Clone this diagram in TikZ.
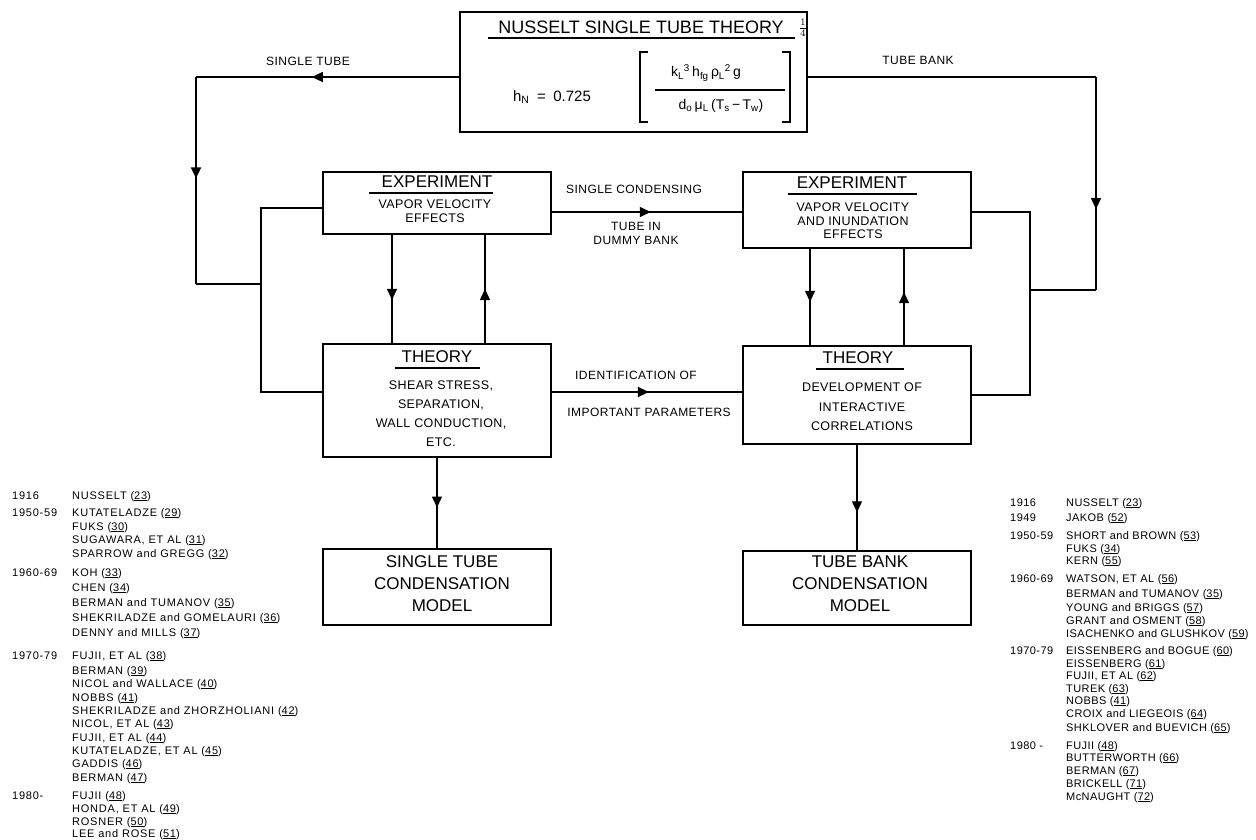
\documentclass[tikz,border=0pt]{standalone}
\usepackage{fontspec}
\setmainfont{Liberation Sans}
\usetikzlibrary{arrows.meta,decorations.markings,calc}
\newcommand\rn[1]{\underline{#1}}
\tikzset{
  box/.style={draw, line width=1.6pt, inner sep=0pt, minimum width=228pt},
  conn/.style={line width=1.4pt},
  uline/.style={line width=1.4pt},
  am/.style={postaction={decorate}, decoration={markings, mark=at position #1 with {\arrow{Triangle[length=11pt,width=10pt]}}}},
  ttl/.style={font=\fontsize{17}{20}\selectfont, inner sep=1pt},
  body/.style={font=\fontsize{12.5}{14}\selectfont\addfontfeature{LetterSpace=3}, align=center, inner sep=0pt},
  lab/.style={font=\fontsize{12}{14}\selectfont\addfontfeature{LetterSpace=4}, align=center, inner sep=0pt},
  model/.style={font=\fontsize{17}{22}\selectfont, align=center, inner sep=0pt},
  ref/.style={font=\fontsize{11}{12}\selectfont\addfontfeature{LetterSpace=7}, anchor=base west, inner sep=0pt},
  refr/.style={font=\fontsize{11}{12}\selectfont\addfontfeature{LetterSpace=4}, anchor=base west, inner sep=0pt},
  frm/.style={font=\fontsize{14}{16}\selectfont, inner sep=1pt},
}
\begin{document}
\begin{tikzpicture}[x=1pt,y=-1pt]
\useasboundingbox (0,0) rectangle (1256,840);

% ---------- top box ----------
\node[box, minimum width=347pt, minimum height=120pt] (nus) at (633.5,72) {};
\node[font=\fontsize{18}{20}\selectfont, inner sep=1pt] (nust) at (641,27) {NUSSELT SINGLE TUBE THEORY};
\draw[uline] (488,38) -- (795,38);
\node[frm, font=\fontsize{15}{16}\selectfont] (hn) at (552,97) {h\textsubscript{N}\enspace=\enspace 0.725};
\node[frm] (num) at (706,73) {k\textsubscript{L}\textsuperscript{3}\,h\textsubscript{fg}\,ρ\textsubscript{L}\textsuperscript{2}\,g};
\node[frm] (den) at (721,106) {d\textsubscript{o}\,μ\textsubscript{L}\,(T\textsubscript{s}\,−\,T\textsubscript{w})};
\draw[uline] (655,90) -- (785,90);
\draw[uline] (648,52) -- (640,52) -- (640,122) -- (648,122);
\draw[uline] (782,52) -- (790,52) -- (790,122) -- (782,122);
\node[inner sep=0pt] (expo) at (803,28) {\scalebox{1.4}{$\frac{1}{4}$}};

% ---------- boxes ----------
\node[box, minimum height=62pt] (e1) at (437,203) {};
\node[box, minimum height=76pt] (e2) at (857,210) {};
\node[box, minimum height=113pt] (t1) at (437,400.5) {};
\node[box, minimum height=98pt] (t2) at (857,395) {};
\node[box, minimum height=76pt] (m1) at (437,587) {};
\node[box, minimum height=74pt] (m2) at (857,588) {};

% box texts
\node[ttl] (e1t) at (437,182) {EXPERIMENT};
\draw[uline] (369,193) -- (493,193);
\node[body] (e1b) at (435,211) {VAPOR VELOCITY\\EFFECTS};
\node[ttl] (e2t) at (852,183) {EXPERIMENT};
\draw[uline] (788,194) -- (917,194);
\node[body, font=\fontsize{12.5}{13.5}\selectfont\addfontfeature{LetterSpace=3}] (e2b) at (853,221) {VAPOR VELOCITY\\AND INUNDATION\\EFFECTS};
\node[ttl] (t1t) at (437,357) {THEORY};
\draw[uline] (395,368) -- (480,368);
\node[body, font=\fontsize{12.5}{19}\selectfont\addfontfeature{LetterSpace=3}] (t1b) at (441,414) {SHEAR STRESS,\\SEPARATION,\\WALL CONDUCTION,\\ETC.};
\node[ttl] (t2t) at (858,358) {THEORY};
\draw[uline] (816,369) -- (904,369);
\node[body, font=\fontsize{12.5}{19.5}\selectfont\addfontfeature{LetterSpace=3}] (t2b) at (862,407) {DEVELOPMENT OF\\INTERACTIVE\\CORRELATIONS};
\node[model] (m1b) at (442,584) {SINGLE TUBE\\CONDENSATION\\MODEL};
\node[model] (m2b) at (860,584) {TUBE BANK\\CONDENSATION\\MODEL};

% ---------- labels ----------
\node[lab] (lst) at (308,61) {SINGLE TUBE};
\node[lab] (ltb) at (918,60) {TUBE BANK};
\node[lab] (lsc) at (634,189) {SINGLE CONDENSING};
\node[lab] (ltd) at (636,233) {TUBE IN\\DUMMY BANK};
\node[lab] (lid) at (636,375) {IDENTIFICATION OF};
\node[lab] (lip) at (649,412) {IMPORTANT PARAMETERS};

% ---------- connectors ----------
\coordinate (a1) at (196,77); \coordinate (a2) at (196,284); \coordinate (a3) at (261,284);
\coordinate (a4) at (261,208); \coordinate (a5) at (261,392);
\draw[conn, am=0.56] (nus.west |- a1) -- (a1);
\draw[conn, am=0.49] (a1) -- (a2);
\draw[conn] (a2) -- (a3);
\draw[conn] (e1.west |- a4) -- (a4) -- (a5) -- (t1.west |- a5);

\coordinate (b1) at (1096,77); \coordinate (b2) at (1096,290); \coordinate (b3) at (1030,290);
\coordinate (b4) at (1030,212); \coordinate (b5) at (1030,395);
\draw[conn] (nus.east |- b1) -- (b1);
\draw[conn, am=0.62] (b1) -- (b2);
\draw[conn] (b2) -- (b3);
\draw[conn] (e2.east |- b4) -- (b4) -- (b5) -- (t2.east |- b5);

\coordinate (c1) at (0,212); \coordinate (c2) at (0,392);
\draw[conn, am=0.52] (e1.east |- c1) -- (e2.west |- c1);
\draw[conn, am=0.51] (t1.east |- c2) -- (t2.west |- c2);

\coordinate (v1) at (392,0); \coordinate (v2) at (485,0);
\coordinate (v3) at (810,0); \coordinate (v4) at (904,0);
\draw[conn, am=0.6] (e1.south -| v1) -- (t1.north -| v1);
\draw[conn, am=0.5] (t1.north -| v2) -- (e1.south -| v2);
\draw[conn, am=0.55] (e2.south -| v3) -- (t2.north -| v3);
\draw[conn, am=0.55] (t2.north -| v4) -- (e2.south -| v4);
\draw[conn, am=0.55] (t1.south) -- (m1.north);
\draw[conn, am=0.64] (t2.south) -- (m2.north);

% ---------- reference lists ----------
\foreach \yy/\txt [count=\i] in {495/1916, 512/1950-59, 572/1960-69, 655/1970-79, 795/1980-}
  \node[ref] (ly\i) at (12,{\yy+4}) {\txt};
\foreach \yy/\txt [count=\i] in {
  495/{NUSSELT (\rn{23})},
  512/{KUTATELADZE (\rn{29})},
  526/{FUKS (\rn{30})},
  539/{SUGAWARA, ET AL (\rn{31})},
  553/{SPARROW and GREGG (\rn{32})},
  572/{KOH (\rn{33})},
  587/{CHEN (\rn{34})},
  602/{BERMAN and TUMANOV (\rn{35})},
  617/{SHEKRILADZE and GOMELAURI (\rn{36})},
  632/{DENNY and MILLS (\rn{37})},
  655/{FUJII, ET AL (\rn{38})},
  670/{BERMAN (\rn{39})},
  683/{NICOL and WALLACE (\rn{40})},
  697/{NOBBS (\rn{41})},
  710/{SHEKRILADZE and ZHORZHOLIANI (\rn{42})},
  723/{NICOL, ET AL (\rn{43})},
  737/{FUJII, ET AL (\rn{44})},
  750/{KUTATELADZE, ET AL (\rn{45})},
  763/{GADDIS (\rn{46})},
  777/{BERMAN (\rn{47})},
  795/{FUJII (\rn{48})},
  808/{HONDA, ET AL (\rn{49})},
  821/{ROSNER (\rn{50})},
  833/{LEE and ROSE (\rn{51})}}
  \node[ref] (ln\i) at (72,{\yy+4}) {\txt};

\foreach \yy/\txt [count=\i] in {502/1916, 517/1949, 535/1950-59, 578/1960-69, 650/1970-79, 745/1980 -}
  \node[refr] (ry\i) at (1010,{\yy+4}) {\txt};
\foreach \yy/\txt [count=\i] in {
  502/{NUSSELT (\rn{23})},
  517/{JAKOB (\rn{52})},
  535/{SHORT and BROWN (\rn{53})},
  548/{FUKS (\rn{34})},
  560/{KERN (\rn{55})},
  578/{WATSON, ET AL (\rn{56})},
  593/{BERMAN and TUMANOV (\rn{35})},
  607/{YOUNG and BRIGGS (\rn{57})},
  620/{GRANT and OSMENT (\rn{58})},
  633/{ISACHENKO and GLUSHKOV (\rn{59})},
  650/{EISSENBERG and BOGUE (\rn{60})},
  663/{EISSENBERG (\rn{61})},
  675/{FUJII, ET AL (\rn{62})},
  688/{TUREK (\rn{63})},
  700/{NOBBS (\rn{41})},
  713/{CROIX and LIEGEOIS (\rn{64})},
  727/{SHKLOVER and BUEVICH (\rn{65})},
  745/{FUJII (\rn{48})},
  757/{BUTTERWORTH (\rn{66})},
  770/{BERMAN (\rn{67})},
  783/{BRICKELL (\rn{71})},
  796/{McNAUGHT (\rn{72})}}
  \node[refr] (rn\i) at (1066,{\yy+4}) {\txt};
\end{tikzpicture}
\end{document}
